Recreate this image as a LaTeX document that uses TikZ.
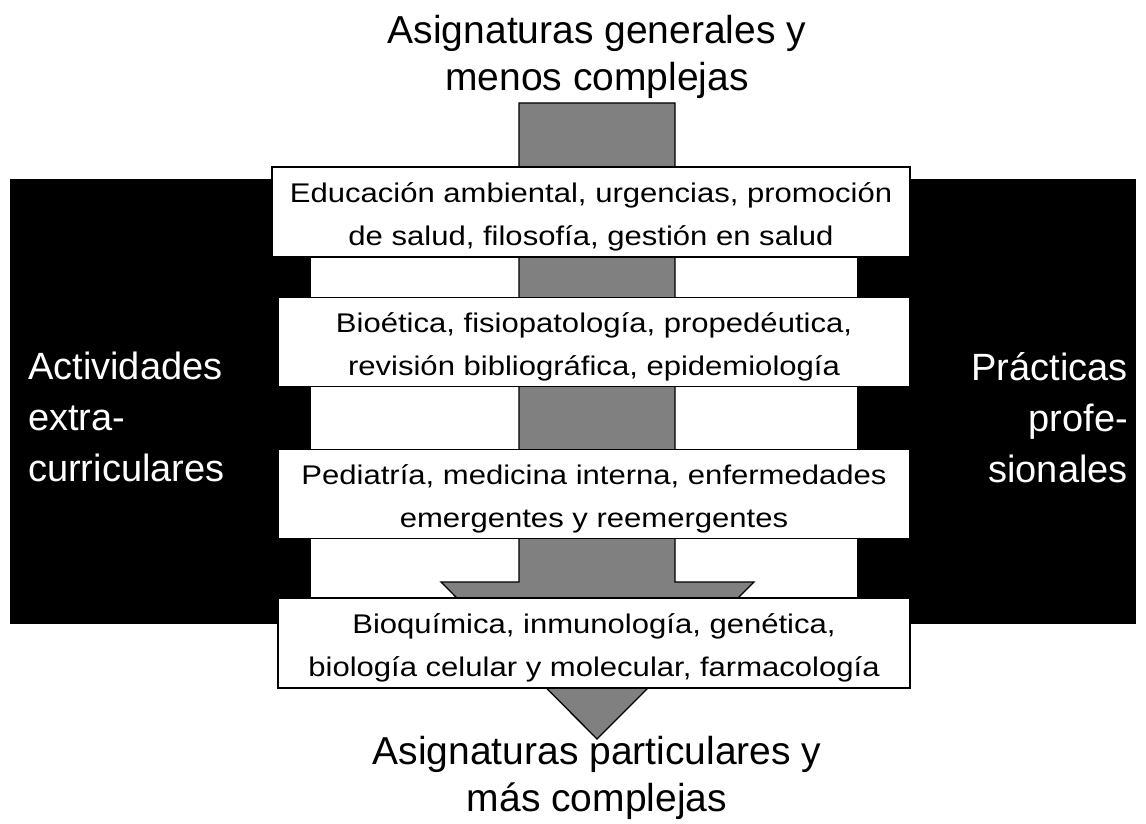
\documentclass[tikz,border=0pt]{standalone}
\usepackage{fontspec}
\setmainfont{Liberation Sans}
\newfontfamily\widefont[FakeStretch=1.15]{Liberation Sans}
\newcommand{\boxstrut}{\rule{0pt}{30pt}}
\usetikzlibrary{positioning}

\begin{document}
\begin{tikzpicture}[x=1pt,y=-1pt,on grid,
    course/.style={draw,line width=1.5pt,fill=white,minimum width=632pt,minimum height=89pt,
      inner sep=0pt,align=center,font=\widefont\fontsize{27}{43}\selectfont},
    side/.style={text=white,inner sep=0pt,font=\fontsize{38}{51}\selectfont},
    heading/.style={inner sep=0pt,align=center,font=\fontsize{39}{47}\selectfont}]
    \useasboundingbox (0,0) rectangle (1146,824);
    \fill[black] (10,179) rectangle (1136,624);
    \fill[white] (311,200) rectangle (857,597);
    \draw[line width=1.3pt,fill=black!50] (519,103) -- (675,103) -- (675,582) -- (754,582)
        -- (597,739) -- (441,582) -- (519,582) -- cycle;

    \node[course,minimum width=638pt,minimum height=90pt] (edu) at (591,212)
        {\boxstrut Educación ambiental, urgencias, promoción\\de salud, filosofía, gestión en salud};
    \node[course] (bio) [below=130pt of edu,xshift=3pt]
        {\boxstrut Bioética, fisiopatología, propedéutica,\\revisión bibliográfica, epidemiología};
    \node[course] (ped) [below=152pt of bio]
        {\boxstrut Pediatría, medicina interna, enfermedades\\emergentes y reemergentes};
    \node[course,minimum height=90pt] (bq) [below=149pt of ped]
        {\boxstrut Bioquímica, inmunología, genética,\\biología celular y molecular, farmacología};

    \node[side,align=left,anchor=north west] (extra) at (28,352) {Actividades\\extra-\\curriculares};
    \node[side,align=right,anchor=north east] (prac) at (1128,352) {Prácticas\\profe-\\sionales};

    \node[heading,anchor=north] (gen) at (597,15) {Asignaturas generales y\\menos complejas};
    \node[heading,anchor=north] (part) at (597,736) {Asignaturas particulares y\\más complejas};
\end{tikzpicture}
\end{document}
